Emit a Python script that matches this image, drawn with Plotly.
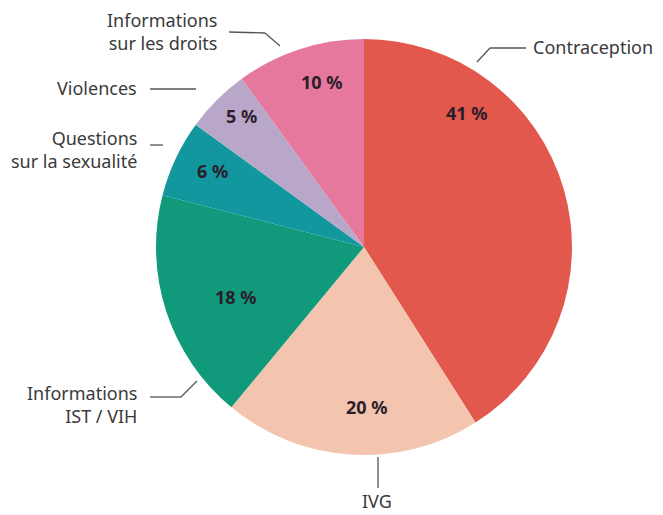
import plotly.graph_objects as go

categories = ["Contraception", "IVG", "Informations IST / VIH", "Questions sur la sexualité", "Violences", "Informations sur les droits"]
values = [41, 20, 18, 6, 5, 10]
pct_labels = ["41 %", "20 %", "18 %", "6 %", "5 %", "10 %"]
colors = ["#e2584c", "#f4c5ae", "#10997a", "#12979f", "#b8a7c9", "#e5789c"]

# page has an 8px body margin: work in reference pixels, shift by OFF
OFF = 8
W, H = 663 - OFF, 515 - OFF
cx, cy, R = 364 - OFF, 247 - OFF, 208


def px(x):
    return (x - OFF) / W


def py(y):
    return 1 - (y - OFF) / H


fig = go.Figure(go.Pie(
    labels=categories, values=values, text=pct_labels,
    textinfo="none",
    sort=False, direction="clockwise", rotation=0,
    marker=dict(colors=colors, line=dict(width=0)),
    domain=dict(x=[(cx - R) / W, (cx + R) / W], y=[(H - cy - R) / H, (H - cy + R) / H]),
    hoverinfo="label+percent", showlegend=False,
))

# percentage label placement (reference pixels), same order as categories
pct_pos = [(467, 113), (367, 407), (236, 297), (212, 171), (241, 116), (322, 82)]
pfont = dict(family="Noto Sans", size=18, color="#2b1e2b")
annotations = []
for t, (x, y) in zip(pct_labels, pct_pos):
    annotations.append(dict(text="<b>" + t + "</b>", x=px(x), y=py(y), xref="paper", yref="paper",
                            xanchor="center", yanchor="middle", showarrow=False, font=pfont))

font = dict(family="Noto Sans", size=18, color="#3a3a3a")
ann = [
    ("Contraception", 531, 47, "left"),
    ("Informations<br>sur les droits", 219, 31, "right"),
    ("Violences", 139, 88, "right"),
    ("Questions<br>sur la sexualité", 139, 149, "right"),
    ("Informations<br>IST / VIH", 139, 404, "right"),
    ("IVG", 377, 501, "center"),
]
for t, x, y, al in ann:
    annotations.append(dict(text=t, x=px(x), y=py(y), xref="paper", yref="paper",
                            xanchor=al, yanchor="middle", showarrow=False, font=font,
                            align=al))

lines = [
    [(477, 62), (490, 48), (526, 48)],
    [(229, 32), (265, 33), (280, 46)],
    [(150, 89), (196, 89)],
    [(150, 145), (163, 145)],
    [(150, 397), (181, 397), (197, 381)],
    [(378, 457), (378, 488)],
]
shapes = []
for pts in lines:
    for (x0, y0), (x1, y1) in zip(pts[:-1], pts[1:]):
        shapes.append(dict(type="line", xref="paper", yref="paper",
                           x0=px(x0), y0=py(y0), x1=px(x1), y1=py(y1),
                           line=dict(color="#555555", width=1.3)))

fig.update_layout(width=W, height=H, margin=dict(l=0, r=0, t=0, b=0),
                  paper_bgcolor="white", plot_bgcolor="white",
                  annotations=annotations, shapes=shapes)
fig.write_html("out.html")
